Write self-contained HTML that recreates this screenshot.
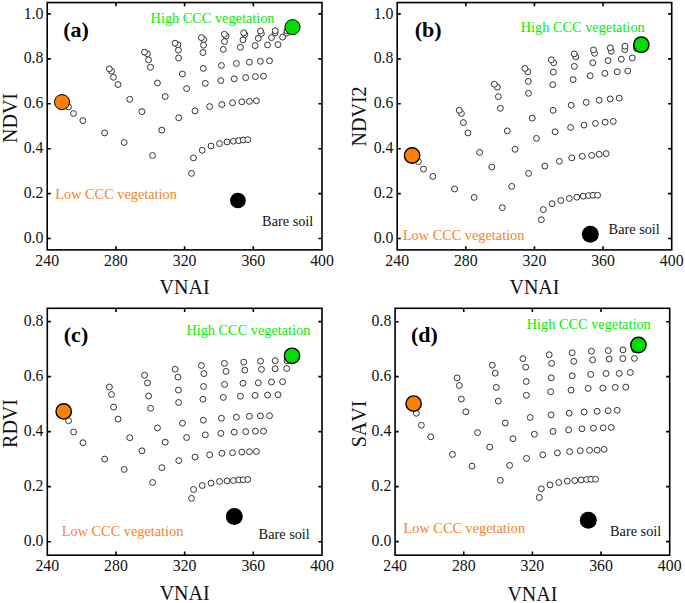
<!DOCTYPE html>
<html><head><meta charset="utf-8"><style>
html,body{margin:0;padding:0;background:#fff;overflow:hidden;}
svg{display:block;}
text{font-family:"Liberation Serif", serif;font-kerning:none;}
.tl{font-size:15.8px;fill:#111;}
.ti{font-size:20px;fill:#111;}
.lt{font-size:22px;font-weight:bold;fill:#000;}
.an{font-size:14.3px;}
</style></head><body>
<svg width="685" height="603" viewBox="0 0 685 603">
<g fill="#fff" stroke="#333" stroke-width="1.0">
<circle cx="68.50" cy="106.9" r="2.95"/>
<circle cx="73.50" cy="113.5" r="2.95"/>
<circle cx="82.90" cy="120.6" r="2.95"/>
<circle cx="104.60" cy="132.9" r="2.95"/>
<circle cx="124.20" cy="142.5" r="2.95"/>
<circle cx="152.50" cy="155.5" r="2.95"/>
<circle cx="191.50" cy="173.4" r="2.95"/>
<circle cx="193.50" cy="157.9" r="2.95"/>
<circle cx="202.20" cy="150.3" r="2.95"/>
<circle cx="211.00" cy="146.0" r="2.95"/>
<circle cx="219.50" cy="143.6" r="2.95"/>
<circle cx="227.00" cy="142.0" r="2.95"/>
<circle cx="233.40" cy="141.2" r="2.95"/>
<circle cx="238.80" cy="140.6" r="2.95"/>
<circle cx="243.20" cy="140.0" r="2.95"/>
<circle cx="247.80" cy="139.7" r="2.95"/>
<circle cx="161.80" cy="130.1" r="2.95"/>
<circle cx="178.70" cy="117.8" r="2.95"/>
<circle cx="195.00" cy="110.9" r="2.95"/>
<circle cx="209.60" cy="106.6" r="2.95"/>
<circle cx="221.90" cy="104.5" r="2.95"/>
<circle cx="232.50" cy="102.8" r="2.95"/>
<circle cx="241.80" cy="101.8" r="2.95"/>
<circle cx="249.40" cy="101.4" r="2.95"/>
<circle cx="256.40" cy="100.8" r="2.95"/>
<circle cx="141.90" cy="111.6" r="2.95"/>
<circle cx="165.20" cy="96.5" r="2.95"/>
<circle cx="186.60" cy="88.6" r="2.95"/>
<circle cx="205.30" cy="83.4" r="2.95"/>
<circle cx="220.80" cy="80.6" r="2.95"/>
<circle cx="234.20" cy="78.8" r="2.95"/>
<circle cx="245.70" cy="77.6" r="2.95"/>
<circle cx="255.40" cy="76.6" r="2.95"/>
<circle cx="263.50" cy="76.2" r="2.95"/>
<circle cx="129.70" cy="99.35" r="2.95"/>
<circle cx="157.40" cy="83.0" r="2.95"/>
<circle cx="182.40" cy="74.0" r="2.95"/>
<circle cx="203.30" cy="68.4" r="2.95"/>
<circle cx="221.40" cy="65.5" r="2.95"/>
<circle cx="236.40" cy="63.5" r="2.95"/>
<circle cx="249.40" cy="62.2" r="2.95"/>
<circle cx="260.40" cy="61.3" r="2.95"/>
<circle cx="269.50" cy="60.8" r="2.95"/>
<circle cx="111.50" cy="71.2" r="2.95"/>
<circle cx="109.30" cy="68.8" r="2.95"/>
<circle cx="113.50" cy="77.3" r="2.95"/>
<circle cx="118.00" cy="84.5" r="2.95"/>
<circle cx="147.40" cy="53.8" r="2.95"/>
<circle cx="144.50" cy="52.2" r="2.95"/>
<circle cx="148.50" cy="59.8" r="2.95"/>
<circle cx="150.50" cy="67.3" r="2.95"/>
<circle cx="177.90" cy="44.8" r="2.95"/>
<circle cx="175.10" cy="43.2" r="2.95"/>
<circle cx="178.40" cy="50.2" r="2.95"/>
<circle cx="178.60" cy="58.0" r="2.95"/>
<circle cx="203.80" cy="39.5" r="2.95"/>
<circle cx="201.40" cy="37.6" r="2.95"/>
<circle cx="203.50" cy="45.2" r="2.95"/>
<circle cx="202.90" cy="52.5" r="2.95"/>
<circle cx="226.00" cy="36.1" r="2.95"/>
<circle cx="224.40" cy="34.3" r="2.95"/>
<circle cx="224.50" cy="41.6" r="2.95"/>
<circle cx="223.30" cy="49.4" r="2.95"/>
<circle cx="244.80" cy="34.5" r="2.95"/>
<circle cx="243.70" cy="32.8" r="2.95"/>
<circle cx="243.00" cy="39.9" r="2.95"/>
<circle cx="240.40" cy="47.4" r="2.95"/>
<circle cx="261.40" cy="33.5" r="2.95"/>
<circle cx="260.50" cy="31.0" r="2.95"/>
<circle cx="258.30" cy="38.3" r="2.95"/>
<circle cx="255.10" cy="45.6" r="2.95"/>
<circle cx="275.10" cy="32.9" r="2.95"/>
<circle cx="275.20" cy="30.7" r="2.95"/>
<circle cx="271.50" cy="37.6" r="2.95"/>
<circle cx="267.50" cy="44.9" r="2.95"/>
<circle cx="286.70" cy="33.0" r="2.95"/>
<circle cx="287.00" cy="30.8" r="2.95"/>
<circle cx="282.60" cy="37.1" r="2.95"/>
<circle cx="278.00" cy="44.6" r="2.95"/>
</g>
<circle cx="62.0" cy="102.1" r="7.55" fill="#ff8000" stroke="#000" stroke-width="1.0"/>
<circle cx="292.5" cy="27.1" r="7.55" fill="#00dd00" stroke="#000" stroke-width="1.0"/>
<circle cx="237.95" cy="200.5" r="7.85" fill="#000"/>
<rect x="47.2" y="2.55" width="274.80" height="247.35" fill="none" stroke="#000" stroke-width="1.6"/>
<text x="47.20" y="265.6" text-anchor="middle" class="tl">240</text>
<path d="M115.90 249.9V246.30M115.90 2.55V6.15" stroke="#000" stroke-width="1.6"/>
<text x="115.90" y="265.6" text-anchor="middle" class="tl">280</text>
<path d="M184.60 249.9V246.30M184.60 2.55V6.15" stroke="#000" stroke-width="1.6"/>
<text x="184.60" y="265.6" text-anchor="middle" class="tl">320</text>
<path d="M253.30 249.9V246.30M253.30 2.55V6.15" stroke="#000" stroke-width="1.6"/>
<text x="253.30" y="265.6" text-anchor="middle" class="tl">360</text>
<text x="322.00" y="265.6" text-anchor="middle" class="tl">400</text>
<path d="M47.2 238.55H50.80M322.0 238.55H318.40" stroke="#000" stroke-width="1.6"/>
<text x="43.40" y="243.15" text-anchor="end" class="tl">0.0</text>
<path d="M47.2 193.62H50.80M322.0 193.62H318.40" stroke="#000" stroke-width="1.6"/>
<text x="43.40" y="198.22" text-anchor="end" class="tl">0.2</text>
<path d="M47.2 148.69H50.80M322.0 148.69H318.40" stroke="#000" stroke-width="1.6"/>
<text x="43.40" y="153.29" text-anchor="end" class="tl">0.4</text>
<path d="M47.2 103.76H50.80M322.0 103.76H318.40" stroke="#000" stroke-width="1.6"/>
<text x="43.40" y="108.36" text-anchor="end" class="tl">0.6</text>
<path d="M47.2 58.83H50.80M322.0 58.83H318.40" stroke="#000" stroke-width="1.6"/>
<text x="43.40" y="63.43" text-anchor="end" class="tl">0.8</text>
<path d="M47.2 13.90H50.80M322.0 13.90H318.40" stroke="#000" stroke-width="1.6"/>
<text x="43.40" y="18.50" text-anchor="end" class="tl">1.0</text>
<text x="184.60" y="294.2" text-anchor="middle" class="ti">VNAI</text>
<text transform="translate(16.6,118.0) rotate(-90)" text-anchor="middle" class="ti">NDVI</text>
<text x="63.2" y="36.6" class="lt">(a)</text>
<text x="150.6" y="23.4" class="an" fill="#00ee00">High CCC vegetation</text>
<text x="55.3" y="199.1" class="an" fill="#f5831f">Low CCC vegetation</text>
<text x="262.1" y="226.1" class="an" fill="#111">Bare soil</text>
<g fill="#fff" stroke="#333" stroke-width="1.0">
<circle cx="418.48" cy="161.6" r="2.95"/>
<circle cx="423.47" cy="169.1" r="2.95"/>
<circle cx="432.86" cy="176.4" r="2.95"/>
<circle cx="454.54" cy="189.0" r="2.95"/>
<circle cx="474.12" cy="197.4" r="2.95"/>
<circle cx="502.39" cy="207.7" r="2.95"/>
<circle cx="541.34" cy="219.7" r="2.95"/>
<circle cx="543.34" cy="209.6" r="2.95"/>
<circle cx="552.03" cy="203.7" r="2.95"/>
<circle cx="560.82" cy="200.5" r="2.95"/>
<circle cx="569.31" cy="198.5" r="2.95"/>
<circle cx="576.80" cy="197.2" r="2.95"/>
<circle cx="583.20" cy="196.2" r="2.95"/>
<circle cx="588.59" cy="195.6" r="2.95"/>
<circle cx="592.99" cy="195.3" r="2.95"/>
<circle cx="597.58" cy="195.2" r="2.95"/>
<circle cx="511.67" cy="186.4" r="2.95"/>
<circle cx="528.56" cy="173.4" r="2.95"/>
<circle cx="544.84" cy="166.1" r="2.95"/>
<circle cx="559.42" cy="161.3" r="2.95"/>
<circle cx="571.71" cy="157.9" r="2.95"/>
<circle cx="582.30" cy="156.3" r="2.95"/>
<circle cx="591.59" cy="155.4" r="2.95"/>
<circle cx="599.18" cy="154.3" r="2.95"/>
<circle cx="606.17" cy="153.6" r="2.95"/>
<circle cx="491.80" cy="167.0" r="2.95"/>
<circle cx="515.07" cy="149.3" r="2.95"/>
<circle cx="536.45" cy="138.4" r="2.95"/>
<circle cx="555.13" cy="131.8" r="2.95"/>
<circle cx="570.61" cy="127.5" r="2.95"/>
<circle cx="584.00" cy="125.1" r="2.95"/>
<circle cx="595.48" cy="123.4" r="2.95"/>
<circle cx="605.17" cy="122.2" r="2.95"/>
<circle cx="613.26" cy="121.4" r="2.95"/>
<circle cx="479.61" cy="152.4" r="2.95"/>
<circle cx="507.28" cy="130.9" r="2.95"/>
<circle cx="532.25" cy="118.1" r="2.95"/>
<circle cx="553.13" cy="110.3" r="2.95"/>
<circle cx="571.21" cy="105.2" r="2.95"/>
<circle cx="586.19" cy="102.4" r="2.95"/>
<circle cx="599.18" cy="100.2" r="2.95"/>
<circle cx="610.17" cy="98.9" r="2.95"/>
<circle cx="619.26" cy="98.1" r="2.95"/>
<circle cx="461.43" cy="113.5" r="2.95"/>
<circle cx="459.23" cy="110.3" r="2.95"/>
<circle cx="463.43" cy="122.6" r="2.95"/>
<circle cx="467.92" cy="132.9" r="2.95"/>
<circle cx="497.29" cy="87.1" r="2.95"/>
<circle cx="494.39" cy="84.2" r="2.95"/>
<circle cx="498.39" cy="96.6" r="2.95"/>
<circle cx="500.39" cy="108.3" r="2.95"/>
<circle cx="527.76" cy="71.7" r="2.95"/>
<circle cx="524.96" cy="68.5" r="2.95"/>
<circle cx="528.26" cy="81.4" r="2.95"/>
<circle cx="528.46" cy="93.3" r="2.95"/>
<circle cx="553.63" cy="62.8" r="2.95"/>
<circle cx="551.23" cy="59.8" r="2.95"/>
<circle cx="553.33" cy="72.1" r="2.95"/>
<circle cx="552.73" cy="84.7" r="2.95"/>
<circle cx="575.80" cy="56.8" r="2.95"/>
<circle cx="574.21" cy="53.9" r="2.95"/>
<circle cx="574.31" cy="66.4" r="2.95"/>
<circle cx="573.11" cy="79.6" r="2.95"/>
<circle cx="594.58" cy="53.3" r="2.95"/>
<circle cx="593.49" cy="49.9" r="2.95"/>
<circle cx="592.79" cy="62.8" r="2.95"/>
<circle cx="590.19" cy="75.7" r="2.95"/>
<circle cx="611.17" cy="51.3" r="2.95"/>
<circle cx="610.27" cy="47.8" r="2.95"/>
<circle cx="608.07" cy="60.6" r="2.95"/>
<circle cx="604.87" cy="73.4" r="2.95"/>
<circle cx="624.85" cy="49.6" r="2.95"/>
<circle cx="624.95" cy="46.2" r="2.95"/>
<circle cx="621.26" cy="59.2" r="2.95"/>
<circle cx="617.26" cy="71.8" r="2.95"/>
<circle cx="636.44" cy="48.6" r="2.95"/>
<circle cx="636.74" cy="45.4" r="2.95"/>
<circle cx="632.34" cy="57.9" r="2.95"/>
<circle cx="627.75" cy="71.0" r="2.95"/>
</g>
<circle cx="412.1" cy="155.5" r="7.70" fill="#ff8000" stroke="#000" stroke-width="1.4"/>
<circle cx="641.3" cy="44.7" r="7.70" fill="#00dd00" stroke="#000" stroke-width="1.4"/>
<circle cx="590.3" cy="234.2" r="8.5" fill="#000"/>
<rect x="397.2" y="2.55" width="274.50" height="247.35" fill="none" stroke="#000" stroke-width="1.6"/>
<text x="397.20" y="265.6" text-anchor="middle" class="tl">240</text>
<path d="M465.82 249.9V246.30M465.82 2.55V6.15" stroke="#000" stroke-width="1.6"/>
<text x="465.82" y="265.6" text-anchor="middle" class="tl">280</text>
<path d="M534.45 249.9V246.30M534.45 2.55V6.15" stroke="#000" stroke-width="1.6"/>
<text x="534.45" y="265.6" text-anchor="middle" class="tl">320</text>
<path d="M603.08 249.9V246.30M603.08 2.55V6.15" stroke="#000" stroke-width="1.6"/>
<text x="603.08" y="265.6" text-anchor="middle" class="tl">360</text>
<text x="671.70" y="265.6" text-anchor="middle" class="tl">400</text>
<path d="M397.2 238.55H400.80M671.7 238.55H668.10" stroke="#000" stroke-width="1.6"/>
<text x="393.40" y="243.15" text-anchor="end" class="tl">0.0</text>
<path d="M397.2 193.62H400.80M671.7 193.62H668.10" stroke="#000" stroke-width="1.6"/>
<text x="393.40" y="198.22" text-anchor="end" class="tl">0.2</text>
<path d="M397.2 148.69H400.80M671.7 148.69H668.10" stroke="#000" stroke-width="1.6"/>
<text x="393.40" y="153.29" text-anchor="end" class="tl">0.4</text>
<path d="M397.2 103.76H400.80M671.7 103.76H668.10" stroke="#000" stroke-width="1.6"/>
<text x="393.40" y="108.36" text-anchor="end" class="tl">0.6</text>
<path d="M397.2 58.83H400.80M671.7 58.83H668.10" stroke="#000" stroke-width="1.6"/>
<text x="393.40" y="63.43" text-anchor="end" class="tl">0.8</text>
<path d="M397.2 13.90H400.80M671.7 13.90H668.10" stroke="#000" stroke-width="1.6"/>
<text x="393.40" y="18.50" text-anchor="end" class="tl">1.0</text>
<text x="534.45" y="294.1" text-anchor="middle" class="ti">VNAI</text>
<text transform="translate(366.4,116.4) rotate(-90)" text-anchor="middle" class="ti">NDVI2</text>
<text x="414.7" y="36.6" class="lt">(b)</text>
<text x="520.8" y="31.6" class="an" fill="#00ee00">High CCC vegetation</text>
<text x="402.9" y="239.9" class="an" fill="#f5831f">Low CCC vegetation</text>
<text x="608.6" y="233.7" class="an" fill="#111">Bare soil</text>
<g fill="#fff" stroke="#333" stroke-width="1.0">
<circle cx="68.59" cy="420.7" r="2.95"/>
<circle cx="73.59" cy="432.0" r="2.95"/>
<circle cx="82.99" cy="442.7" r="2.95"/>
<circle cx="104.68" cy="459.1" r="2.95"/>
<circle cx="124.27" cy="469.4" r="2.95"/>
<circle cx="152.56" cy="482.5" r="2.95"/>
<circle cx="191.55" cy="498.4" r="2.95"/>
<circle cx="193.55" cy="489.5" r="2.95"/>
<circle cx="202.24" cy="485.5" r="2.95"/>
<circle cx="211.04" cy="483.1" r="2.95"/>
<circle cx="219.54" cy="481.5" r="2.95"/>
<circle cx="227.03" cy="480.9" r="2.95"/>
<circle cx="233.43" cy="480.5" r="2.95"/>
<circle cx="238.83" cy="479.9" r="2.95"/>
<circle cx="243.23" cy="479.8" r="2.95"/>
<circle cx="247.83" cy="479.5" r="2.95"/>
<circle cx="161.86" cy="467.7" r="2.95"/>
<circle cx="178.75" cy="460.6" r="2.95"/>
<circle cx="195.05" cy="457.0" r="2.95"/>
<circle cx="209.64" cy="454.8" r="2.95"/>
<circle cx="221.94" cy="453.3" r="2.95"/>
<circle cx="232.53" cy="452.7" r="2.95"/>
<circle cx="241.83" cy="452.1" r="2.95"/>
<circle cx="249.43" cy="451.7" r="2.95"/>
<circle cx="256.42" cy="451.5" r="2.95"/>
<circle cx="141.97" cy="450.8" r="2.95"/>
<circle cx="165.26" cy="442.2" r="2.95"/>
<circle cx="186.65" cy="437.5" r="2.95"/>
<circle cx="205.34" cy="434.9" r="2.95"/>
<circle cx="220.84" cy="433.4" r="2.95"/>
<circle cx="234.23" cy="432.2" r="2.95"/>
<circle cx="245.73" cy="431.6" r="2.95"/>
<circle cx="255.42" cy="431.2" r="2.95"/>
<circle cx="263.52" cy="431.2" r="2.95"/>
<circle cx="129.77" cy="437.7" r="2.95"/>
<circle cx="157.46" cy="427.9" r="2.95"/>
<circle cx="182.45" cy="423.2" r="2.95"/>
<circle cx="203.34" cy="420.2" r="2.95"/>
<circle cx="221.44" cy="418.2" r="2.95"/>
<circle cx="236.43" cy="417.2" r="2.95"/>
<circle cx="249.43" cy="416.3" r="2.95"/>
<circle cx="260.42" cy="415.9" r="2.95"/>
<circle cx="269.52" cy="415.7" r="2.95"/>
<circle cx="111.58" cy="394.5" r="2.95"/>
<circle cx="109.38" cy="387.0" r="2.95"/>
<circle cx="113.58" cy="407.1" r="2.95"/>
<circle cx="118.07" cy="419.1" r="2.95"/>
<circle cx="147.46" cy="382.9" r="2.95"/>
<circle cx="144.56" cy="375.2" r="2.95"/>
<circle cx="148.56" cy="396.0" r="2.95"/>
<circle cx="150.56" cy="408.3" r="2.95"/>
<circle cx="177.95" cy="377.1" r="2.95"/>
<circle cx="175.15" cy="369.2" r="2.95"/>
<circle cx="178.45" cy="390.1" r="2.95"/>
<circle cx="178.65" cy="402.5" r="2.95"/>
<circle cx="203.84" cy="373.6" r="2.95"/>
<circle cx="201.44" cy="365.5" r="2.95"/>
<circle cx="203.54" cy="386.5" r="2.95"/>
<circle cx="202.94" cy="399.3" r="2.95"/>
<circle cx="226.03" cy="371.4" r="2.95"/>
<circle cx="224.44" cy="363.4" r="2.95"/>
<circle cx="224.54" cy="384.4" r="2.95"/>
<circle cx="223.34" cy="397.4" r="2.95"/>
<circle cx="244.83" cy="370.2" r="2.95"/>
<circle cx="243.73" cy="362.1" r="2.95"/>
<circle cx="243.03" cy="383.3" r="2.95"/>
<circle cx="240.43" cy="396.3" r="2.95"/>
<circle cx="261.42" cy="369.4" r="2.95"/>
<circle cx="260.52" cy="361.2" r="2.95"/>
<circle cx="258.32" cy="382.8" r="2.95"/>
<circle cx="255.12" cy="395.4" r="2.95"/>
<circle cx="275.12" cy="368.8" r="2.95"/>
<circle cx="275.22" cy="360.7" r="2.95"/>
<circle cx="271.52" cy="382.0" r="2.95"/>
<circle cx="267.52" cy="395.0" r="2.95"/>
<circle cx="286.71" cy="368.5" r="2.95"/>
<circle cx="287.01" cy="360.9" r="2.95"/>
<circle cx="282.61" cy="381.7" r="2.95"/>
<circle cx="278.02" cy="394.7" r="2.95"/>
</g>
<circle cx="63.7" cy="411.4" r="7.70" fill="#ff8000" stroke="#000" stroke-width="1.4"/>
<circle cx="292.0" cy="355.8" r="7.70" fill="#00dd00" stroke="#000" stroke-width="1.4"/>
<circle cx="234.3" cy="516.5" r="8.5" fill="#000"/>
<rect x="47.3" y="308.3" width="274.70" height="246.90" fill="none" stroke="#000" stroke-width="1.6"/>
<text x="47.30" y="571.3" text-anchor="middle" class="tl">240</text>
<path d="M115.97 555.2V551.60M115.97 308.3V311.90" stroke="#000" stroke-width="1.6"/>
<text x="115.97" y="571.3" text-anchor="middle" class="tl">280</text>
<path d="M184.65 555.2V551.60M184.65 308.3V311.90" stroke="#000" stroke-width="1.6"/>
<text x="184.65" y="571.3" text-anchor="middle" class="tl">320</text>
<path d="M253.32 555.2V551.60M253.32 308.3V311.90" stroke="#000" stroke-width="1.6"/>
<text x="253.32" y="571.3" text-anchor="middle" class="tl">360</text>
<text x="322.00" y="571.3" text-anchor="middle" class="tl">400</text>
<path d="M47.3 541.70H50.90M322.0 541.70H318.40" stroke="#000" stroke-width="1.6"/>
<text x="43.50" y="546.30" text-anchor="end" class="tl">0.0</text>
<path d="M47.3 486.67H50.90M322.0 486.67H318.40" stroke="#000" stroke-width="1.6"/>
<text x="43.50" y="491.27" text-anchor="end" class="tl">0.2</text>
<path d="M47.3 431.64H50.90M322.0 431.64H318.40" stroke="#000" stroke-width="1.6"/>
<text x="43.50" y="436.24" text-anchor="end" class="tl">0.4</text>
<path d="M47.3 376.61H50.90M322.0 376.61H318.40" stroke="#000" stroke-width="1.6"/>
<text x="43.50" y="381.21" text-anchor="end" class="tl">0.6</text>
<path d="M47.3 321.58H50.90M322.0 321.58H318.40" stroke="#000" stroke-width="1.6"/>
<text x="43.50" y="326.18" text-anchor="end" class="tl">0.8</text>
<text x="184.65" y="600.4" text-anchor="middle" class="ti">VNAI</text>
<text transform="translate(17.2,423.5) rotate(-90)" text-anchor="middle" class="ti">RDVI</text>
<text x="63.8" y="341.8" class="lt">(c)</text>
<text x="186.4" y="335.3" class="an" fill="#00ee00">High CCC vegetation</text>
<text x="61.8" y="535.6" class="an" fill="#f5831f">Low CCC vegetation</text>
<text x="258.6" y="538.6" class="an" fill="#111">Bare soil</text>
<g fill="#fff" stroke="#333" stroke-width="1.0">
<circle cx="416.38" cy="413.3" r="2.95"/>
<circle cx="421.38" cy="425.3" r="2.95"/>
<circle cx="430.77" cy="436.8" r="2.95"/>
<circle cx="452.46" cy="454.4" r="2.95"/>
<circle cx="472.04" cy="466.1" r="2.95"/>
<circle cx="500.32" cy="480.3" r="2.95"/>
<circle cx="539.29" cy="497.5" r="2.95"/>
<circle cx="541.29" cy="488.8" r="2.95"/>
<circle cx="549.99" cy="484.9" r="2.95"/>
<circle cx="558.78" cy="482.5" r="2.95"/>
<circle cx="567.27" cy="481.1" r="2.95"/>
<circle cx="574.77" cy="480.5" r="2.95"/>
<circle cx="581.16" cy="479.9" r="2.95"/>
<circle cx="586.56" cy="479.5" r="2.95"/>
<circle cx="590.96" cy="479.3" r="2.95"/>
<circle cx="595.55" cy="479.3" r="2.95"/>
<circle cx="509.62" cy="465.4" r="2.95"/>
<circle cx="526.50" cy="458.4" r="2.95"/>
<circle cx="542.79" cy="454.8" r="2.95"/>
<circle cx="557.38" cy="452.9" r="2.95"/>
<circle cx="569.67" cy="451.6" r="2.95"/>
<circle cx="580.27" cy="450.7" r="2.95"/>
<circle cx="589.56" cy="450.3" r="2.95"/>
<circle cx="597.15" cy="450.1" r="2.95"/>
<circle cx="604.15" cy="449.4" r="2.95"/>
<circle cx="489.73" cy="447.1" r="2.95"/>
<circle cx="513.01" cy="438.7" r="2.95"/>
<circle cx="534.40" cy="434.2" r="2.95"/>
<circle cx="553.08" cy="431.4" r="2.95"/>
<circle cx="568.57" cy="429.9" r="2.95"/>
<circle cx="581.96" cy="428.8" r="2.95"/>
<circle cx="593.46" cy="428.2" r="2.95"/>
<circle cx="603.15" cy="427.8" r="2.95"/>
<circle cx="611.24" cy="427.5" r="2.95"/>
<circle cx="477.54" cy="432.6" r="2.95"/>
<circle cx="505.22" cy="423.0" r="2.95"/>
<circle cx="530.20" cy="417.5" r="2.95"/>
<circle cx="551.09" cy="414.9" r="2.95"/>
<circle cx="569.17" cy="413.2" r="2.95"/>
<circle cx="584.16" cy="412.0" r="2.95"/>
<circle cx="597.15" cy="411.3" r="2.95"/>
<circle cx="608.14" cy="410.7" r="2.95"/>
<circle cx="617.24" cy="410.3" r="2.95"/>
<circle cx="459.35" cy="385.5" r="2.95"/>
<circle cx="457.15" cy="377.9" r="2.95"/>
<circle cx="461.35" cy="399.1" r="2.95"/>
<circle cx="465.85" cy="411.8" r="2.95"/>
<circle cx="495.23" cy="373.2" r="2.95"/>
<circle cx="492.33" cy="365.2" r="2.95"/>
<circle cx="496.33" cy="387.4" r="2.95"/>
<circle cx="498.32" cy="401.1" r="2.95"/>
<circle cx="525.70" cy="367.2" r="2.95"/>
<circle cx="522.91" cy="358.6" r="2.95"/>
<circle cx="526.20" cy="381.5" r="2.95"/>
<circle cx="526.40" cy="395.3" r="2.95"/>
<circle cx="551.59" cy="363.4" r="2.95"/>
<circle cx="549.19" cy="354.7" r="2.95"/>
<circle cx="551.29" cy="377.8" r="2.95"/>
<circle cx="550.69" cy="391.7" r="2.95"/>
<circle cx="573.77" cy="361.4" r="2.95"/>
<circle cx="572.17" cy="352.8" r="2.95"/>
<circle cx="572.27" cy="375.8" r="2.95"/>
<circle cx="571.07" cy="390.1" r="2.95"/>
<circle cx="592.56" cy="359.9" r="2.95"/>
<circle cx="591.46" cy="351.2" r="2.95"/>
<circle cx="590.76" cy="374.4" r="2.95"/>
<circle cx="588.16" cy="388.4" r="2.95"/>
<circle cx="609.14" cy="359.0" r="2.95"/>
<circle cx="608.24" cy="350.6" r="2.95"/>
<circle cx="606.05" cy="373.5" r="2.95"/>
<circle cx="602.85" cy="388.1" r="2.95"/>
<circle cx="622.83" cy="358.6" r="2.95"/>
<circle cx="622.93" cy="349.9" r="2.95"/>
<circle cx="619.24" cy="373.4" r="2.95"/>
<circle cx="615.24" cy="387.4" r="2.95"/>
<circle cx="634.43" cy="358.4" r="2.95"/>
<circle cx="634.73" cy="349.7" r="2.95"/>
<circle cx="630.33" cy="372.5" r="2.95"/>
<circle cx="625.73" cy="387.1" r="2.95"/>
</g>
<circle cx="413.6" cy="403.6" r="7.70" fill="#ff8000" stroke="#000" stroke-width="1.4"/>
<circle cx="638.4" cy="345.0" r="7.70" fill="#00dd00" stroke="#000" stroke-width="1.4"/>
<circle cx="588.3" cy="520.3" r="8.5" fill="#000"/>
<rect x="395.1" y="308.3" width="274.60" height="246.90" fill="none" stroke="#000" stroke-width="1.6"/>
<text x="395.10" y="571.3" text-anchor="middle" class="tl">240</text>
<path d="M463.75 555.2V551.60M463.75 308.3V311.90" stroke="#000" stroke-width="1.6"/>
<text x="463.75" y="571.3" text-anchor="middle" class="tl">280</text>
<path d="M532.40 555.2V551.60M532.40 308.3V311.90" stroke="#000" stroke-width="1.6"/>
<text x="532.40" y="571.3" text-anchor="middle" class="tl">320</text>
<path d="M601.05 555.2V551.60M601.05 308.3V311.90" stroke="#000" stroke-width="1.6"/>
<text x="601.05" y="571.3" text-anchor="middle" class="tl">360</text>
<text x="669.70" y="571.3" text-anchor="middle" class="tl">400</text>
<path d="M395.1 541.60H398.70M669.7 541.60H666.10" stroke="#000" stroke-width="1.6"/>
<text x="391.30" y="546.20" text-anchor="end" class="tl">0.0</text>
<path d="M395.1 486.62H398.70M669.7 486.62H666.10" stroke="#000" stroke-width="1.6"/>
<text x="391.30" y="491.22" text-anchor="end" class="tl">0.2</text>
<path d="M395.1 431.64H398.70M669.7 431.64H666.10" stroke="#000" stroke-width="1.6"/>
<text x="391.30" y="436.24" text-anchor="end" class="tl">0.4</text>
<path d="M395.1 376.66H398.70M669.7 376.66H666.10" stroke="#000" stroke-width="1.6"/>
<text x="391.30" y="381.26" text-anchor="end" class="tl">0.6</text>
<path d="M395.1 321.68H398.70M669.7 321.68H666.10" stroke="#000" stroke-width="1.6"/>
<text x="391.30" y="326.28" text-anchor="end" class="tl">0.8</text>
<text x="532.40" y="600.5" text-anchor="middle" class="ti">VNAI</text>
<text transform="translate(365.6,424.0) rotate(-90)" text-anchor="middle" class="ti">SAVI</text>
<text x="410.9" y="342.2" class="lt">(d)</text>
<text x="526.8" y="328.8" class="an" fill="#00ee00">High CCC vegetation</text>
<text x="403.6" y="532.8" class="an" fill="#f5831f">Low CCC vegetation</text>
<text x="610.0" y="536.2" class="an" fill="#111">Bare soil</text>
</svg>
</body></html>
